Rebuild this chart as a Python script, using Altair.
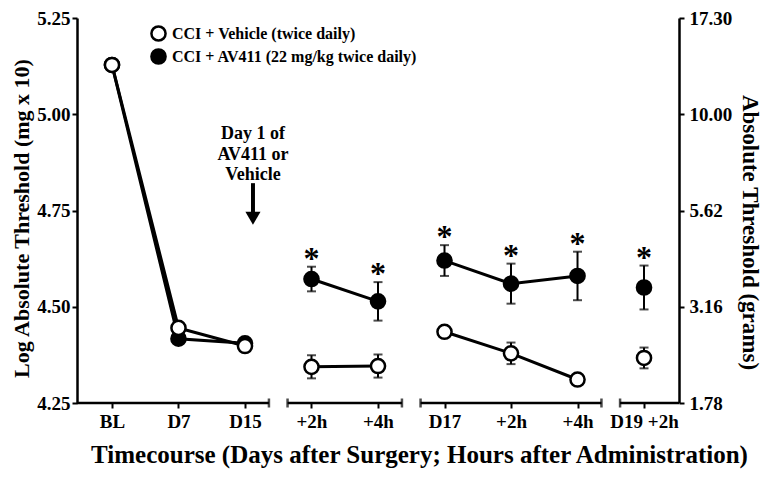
import json
import altair as alt
import pandas as pd

# ---------------- data ----------------
x_labels = ["BL", "D7", "D15", "+2h", "+4h", "D17", "+2h", "+4h", "D19 +2h"]
x_group = [0, 0, 0, 1, 1, 2, 2, 2, 3]

series_names = ["CCI + Vehicle (twice daily)", "CCI + AV411 (22 mg/kg twice daily)"]

veh_mean = [5.128, 4.445, 4.398, 4.344, 4.346, 4.435, 4.379, 4.311, 4.367]
veh_sem = [0.012, 0.012, 0.010, 0.030, 0.030, 0.012, 0.028, 0.010, 0.027]

av_mean = [5.128, 4.417, 4.405, 4.572, 4.514, 4.620, 4.560, 4.580, 4.550]
av_sem = [0.010, 0.010, 0.010, 0.032, 0.050, 0.040, 0.052, 0.063, 0.057]
av_sig = [False, False, False, True, True, True, True, True, True]

left_ticks = [4.25, 4.50, 4.75, 5.00, 5.25]
right_tick_labels = ["1.78", "3.16", "5.62", "10.00", "17.30"]

annot_lines = ["Day 1 of", "AV411 or", "Vehicle"]
annot_line_y = [4.948, 4.893, 4.842]
annot_x = 2.12
arrow_y_top = 4.821
arrow_y_bottom = 4.745
arrow_head_y = 4.73

# ---------------- tables ----------------
rows = []
for name, mean, sem, sig in [
    (series_names[1], av_mean, av_sem, av_sig),
    (series_names[0], veh_mean, veh_sem, [False] * len(veh_mean)),
]:
    for i, (m, s, g) in enumerate(zip(mean, sem, sig)):
        rows.append(dict(idx=i, series=name, mean=m, lo=m - s, hi=m + s, sig=g,
                         key=f"{name}-{x_group[i]}"))
df = pd.DataFrame(rows)

x_min, x_max = -0.526, 8.526
pad = 0.36
segs = []
for g in sorted(set(x_group)):
    ids = [i for i, gg in enumerate(x_group) if gg == g]
    segs.append(dict(start=min(ids) - pad, end=max(ids) + pad, base=left_ticks[0]))
segs[0]["start"] = x_min
segs[-1]["end"] = x_max
seg_df = pd.DataFrame(segs)
caps = []
for s in segs:
    if s["start"] > x_min:
        caps.append(dict(x=s["start"], base=s["base"]))
    if s["end"] < x_max:
        caps.append(dict(x=s["end"], base=s["base"]))
cap_df = pd.DataFrame(caps)

annot_df = pd.DataFrame(dict(x=[annot_x] * len(annot_lines), y=annot_line_y,
                             t=annot_lines))
arrow_df = pd.DataFrame([dict(x=annot_x, y1=arrow_y_top, y2=arrow_y_bottom,
                              yh=arrow_head_y)])
right_df = pd.DataFrame(dict(v=left_ticks))

FONT = "Liberation Serif"
W, H = 602, 385

xscale = alt.Scale(domain=[x_min, x_max], nice=False, zero=False)
yscale = alt.Scale(domain=[left_ticks[0], left_ticks[-1]], nice=False, zero=False)

xaxis = alt.Axis(values=list(range(len(x_labels))),
                 labelExpr=json.dumps(x_labels) + "[datum.value]",
                 domain=False, labelOverlap=False, labelPadding=4,
                 title="Timecourse (Days after Surgery; Hours after Administration)",
                 titleX=342, titleAlign="center", titlePadding=11, titleFontSize=25)
yaxis = alt.Axis(values=left_ticks, format=".2f", labelPadding=2,
                 title="Log Absolute Threshold (mg x 10)", titlePadding=3,
                 titleFontSize=22, titleY=200)


def X(f):
    return alt.X(f, type="quantitative", scale=xscale, axis=xaxis)


def Y(f):
    return alt.Y(f, type="quantitative", scale=yscale, axis=yaxis)


segments = alt.Chart(seg_df).mark_rule(color="black", strokeWidth=2.5).encode(
    x=X("start"), x2="end", y=Y("base"))
seg_caps = alt.Chart(cap_df).mark_tick(color="black", orient="vertical", size=9,
                                       thickness=2.5).encode(x=X("x"), y=Y("base"))

err = alt.Chart(df).mark_rule(color="black", strokeWidth=2).encode(
    x=X("idx"), y=Y("lo"), y2="hi")
cap_lo = alt.Chart(df).mark_tick(color="black", orient="horizontal", size=9,
                                 thickness=2).encode(x=X("idx"), y=Y("lo"))
cap_hi = alt.Chart(df).mark_tick(color="black", orient="horizontal", size=9,
                                 thickness=2).encode(x=X("idx"), y=Y("hi"))

lines = alt.Chart(df).mark_line(color="black", strokeWidth=3).encode(
    x=X("idx"), y=Y("mean"), detail="key:N", order="idx:Q")

points = alt.Chart(df).mark_point(shape="circle", size=200, filled=True,
                                  stroke="black", strokeWidth=2.5, opacity=1).encode(
    x=X("idx"), y=Y("mean"),
    fill=alt.Fill("series:N",
                  scale=alt.Scale(domain=series_names, range=["white", "black"]),
                  legend=alt.Legend(orient="none", legendX=73, legendY=7, title=None,
                                    symbolType="circle", symbolSize=200,
                                    symbolStrokeColor="black", symbolStrokeWidth=2.5,
                                    labelFont=FONT, labelFontSize=16,
                                    labelFontWeight="bold", labelColor="black",
                                    labelLimit=0, rowPadding=-2, labelOffset=5,
                                    padding=0)))

stars = alt.Chart(df).transform_filter("datum.sig").mark_text(
    text="*", font=FONT, fontSize=32, fontWeight="bold", color="black",
    baseline="alphabetic", dy=2).encode(x=X("idx"), y=Y("hi"))

annot = alt.Chart(annot_df).mark_text(
    font=FONT, fontSize=18, fontWeight="bold", color="black", baseline="middle",
    align="center").encode(x=X("x"), y=Y("y"), text="t:N")
shaft = alt.Chart(arrow_df).mark_rule(color="black", strokeWidth=4).encode(
    x=X("x"), y=Y("y1"), y2="y2")
head = alt.Chart(arrow_df).mark_point(shape="triangle-down", size=230, filled=True,
                                      color="black", opacity=1).encode(
    x=X("x"), y=Y("yh"))

main = alt.layer(segments, seg_caps, err, cap_lo, cap_hi, lines, points, stars,
                 annot, shaft, head)

right = alt.Chart(right_df).mark_point(opacity=0).encode(
    y=alt.Y("v:Q", scale=yscale,
            axis=alt.Axis(orient="right", values=left_ticks,
                          labelExpr=json.dumps(right_tick_labels)
                          + "[indexof(" + json.dumps(left_ticks) + ", datum.value)]",
                          title="Absolute Threshold (grams)", titlePadding=6,
                          labelPadding=5, titleY=214)))

chart = alt.layer(main, right).resolve_scale(y="independent").properties(
    width=W, height=H,
    autosize=alt.AutoSizeParams(type="none"),
    padding={"left": 69, "top": 10, "right": 85, "bottom": 69},
).configure_view(stroke=None).configure_axis(
    grid=False, domainColor="black", domainWidth=2.5, tickColor="black",
    tickWidth=2, tickSize=5, labelFont=FONT, labelFontSize=19,
    labelFontWeight="bold", labelColor="black", titleFont=FONT, titleFontSize=23,
    titleFontWeight="bold", titleColor="black"
)

chart.save("out.html", embed_options={"renderer": "svg", "actions": False})
